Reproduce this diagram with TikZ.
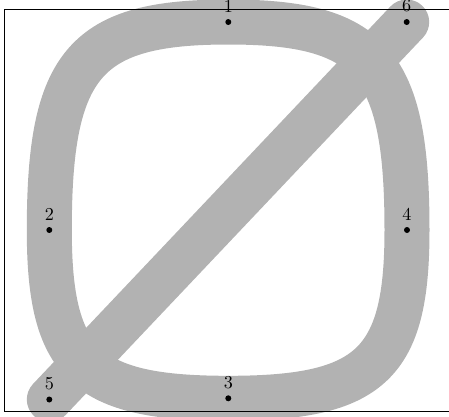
\documentclass[tikz,border=0pt]{standalone}
\begin{document}
\begin{tikzpicture}[x=0.55pt,y=-0.55pt,
  band/.style={draw=black!30,line width=24.75pt,line cap=round,line join=round},
  frame/.style={draw=black,line width=0.55pt},
  pt/.style={circle,fill=black,inner sep=0pt,minimum size=3.3pt,label distance=-3.6pt}]
\useasboundingbox (0,0) rectangle (449,416);
\coordinate (p1) at (228.3,22);
\coordinate (p2) at (49.3,230);
\coordinate (p3) at (228.3,398.3);
\coordinate (p4) at (407,230);
\coordinate (p5) at (49.3,399.5);
\coordinate (p6) at (406.7,22);
\draw[band] (p1) .. controls +(-143,0) and +(0,-167) .. (p2)
  .. controls +(0,134) and +(-143,0) .. (p3)
  .. controls +(143,0) and +(0,134) .. (p4)
  .. controls +(0,-167) and +(143,0) .. (p1) -- cycle;
\draw[band] (p5) -- (p6);
\coordinate (fa) at (460,9);
\coordinate (fb) at (4.5,9);
\coordinate (fc) at (4.5,411);
\coordinate (fd) at (460,411);
\draw[frame] (fa) -- (fb) -- (fc) -- (fd);
\node[pt,label=above:1] (n1) at (p1) {};
\node[pt,label=above:2] (n2) at (p2) {};
\node[pt,label=above:3] (n3) at (p3) {};
\node[pt,label=above:4] (n4) at (p4) {};
\node[pt,label=above:5] (n5) at (p5) {};
\node[pt,label=above:6] (n6) at (p6) {};
\end{tikzpicture}
\end{document}
